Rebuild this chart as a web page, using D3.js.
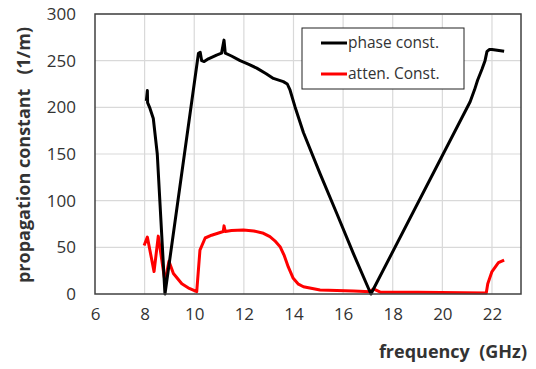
<!DOCTYPE html>
<html>
<head>
<meta charset="utf-8">
<script src="https://cdn.jsdelivr.net/npm/d3@7"></script>
<style>
  body { margin: 0; background: #fff; }
  text { font-family: "Open Sans", "Noto Sans", sans-serif; fill: #333; }
</style>
</head>
<body>
<div id="chart"></div>
<script>

// phase constant (black)
let phaseFreq = [8.07, 8.11, 8.12, 8.2, 8.35, 8.51, 8.82, 10.17, 10.24, 10.3, 10.4, 10.57, 10.9, 11.1, 11.2, 11.25, 11.5, 11.85, 12.2, 12.52, 12.9, 13.19, 13.59, 13.75, 13.86, 14.06, 14.4, 15.07, 15.75, 16.42, 17.12, 21.12, 21.3, 21.42, 21.6, 21.72, 21.8, 21.9, 22.0, 22.49];
let phaseVals = [207, 218, 205, 200, 188, 150, 0, 258, 259, 250, 249, 252, 256, 258, 272, 258, 255, 250, 246, 242, 236, 231, 227.5, 225, 218.6, 200.7, 173, 129, 86, 43, 0, 206, 219, 229, 241, 250, 260, 262, 262, 260];

// attenuation constant (red)
let attenFreq = [7.98, 8.11, 8.38, 8.55, 8.82, 8.98, 9.16, 9.5, 9.8, 10.1, 10.23, 10.44, 10.7, 11.17, 11.2, 11.25, 11.5, 11.98, 12.4, 12.79, 13.05, 13.25, 13.46, 13.63, 13.79, 13.99, 14.2, 14.4, 15.07, 16.42, 17.09, 17.22, 17.5, 19, 21.77, 21.83, 22.0, 22.26, 22.49];
let attenVals = [52, 61, 24, 62, 13, 35, 22, 11, 6, 2.5, 47, 60, 63, 67, 73, 67, 68, 68.6, 67.5, 65, 61.4, 57, 50.7, 41, 29, 16.8, 10.5, 7.8, 4.3, 3.2, 2.5, 5.4, 2, 2, 1, 11, 24, 33.6, 36.4];

let xTicks = [6, 8, 10, 12, 14, 16, 18, 20, 22];
let yTicks = [0, 50, 100, 150, 200, 250, 300];

let seriesNames = ['phase const.', 'atten. Const.'];
let seriesColors = ['#000000', '#ff0000'];

function main() {
  // plot area
  var margin = { top: 14, right: 15, bottom: 75, left: 95 };
  var width = 536 - margin.left - margin.right;
  var height = 369 - margin.top - margin.bottom;

  var svg = d3.select("#chart").append("svg")
    .attr("width", 536)
    .attr("height", 369);

  var g = svg.append("g")
    .attr("transform", "translate(" + margin.left + "," + margin.top + ")");

  var x = d3.scaleLinear().domain([6, 23.17]).range([0, width]);
  var y = d3.scaleLinear().domain([0, 300]).range([height, 0]);

  // grid
  g.selectAll(".vgrid")
    .data(xTicks.slice(1))
    .enter().append("line")
    .attr("x1", function (d) { return x(d); })
    .attr("x2", function (d) { return x(d); })
    .attr("y1", 0).attr("y2", height)
    .attr("stroke", "#d9d9d9").attr("stroke-width", 1.2);

  g.selectAll(".hgrid")
    .data(yTicks.slice(1))
    .enter().append("line")
    .attr("x1", 0).attr("x2", width)
    .attr("y1", function (d) { return y(d); })
    .attr("y2", function (d) { return y(d); })
    .attr("stroke", "#d9d9d9").attr("stroke-width", 1.2);

  // lines
  var phaseData = phaseFreq.map(function (f, i) { return [f, phaseVals[i]]; });
  var attenData = attenFreq.map(function (f, i) { return [f, attenVals[i]]; });

  var line = d3.line()
    .x(function (d) { return x(d[0]); })
    .y(function (d) { return y(d[1]); })
    .curve(d3.curveLinear);

  g.append("path").datum(attenData)
    .attr("d", line)
    .attr("fill", "none")
    .attr("stroke", seriesColors[1])
    .attr("stroke-width", 3)
    .attr("stroke-linejoin", "round");

  g.append("path").datum(phaseData)
    .attr("d", line)
    .attr("fill", "none")
    .attr("stroke", seriesColors[0])
    .attr("stroke-width", 3)
    .attr("stroke-linejoin", "round");

  // frame
  g.append("rect")
    .attr("width", width).attr("height", height)
    .attr("fill", "none")
    .attr("stroke", "#404040").attr("stroke-width", 1.5);

  // axes (labels only)
  var xAxis = g.append("g")
    .attr("transform", "translate(0," + height + ")")
    .call(d3.axisBottom(x).tickValues(xTicks).tickSize(0).tickPadding(14));
  xAxis.select(".domain").remove();
  xAxis.selectAll("text").style("font-size", "17px").attr("fill", "#404040");

  var yAxis = g.append("g")
    .call(d3.axisLeft(y).tickValues(yTicks).tickSize(0).tickPadding(19));
  yAxis.select(".domain").remove();
  yAxis.selectAll("text").style("font-size", "17px").attr("fill", "#404040");

  // axis titles
  svg.append("text")
    .attr("x", 527).attr("y", 358)
    .attr("text-anchor", "end")
    .style("font-size", "18px").style("font-weight", "bold")
    .attr("fill", "#111")
    .text("frequency\u00a0\u00a0(GHz)");

  svg.append("text")
    .attr("transform", "translate(30," + (margin.top + height / 2 + 1) + ") rotate(-90)")
    .attr("text-anchor", "middle")
    .style("font-size", "18px").style("font-weight", "bold")
    .attr("fill", "#111")
    .text("propagation constant\u00a0\u00a0\u00a0(1/m)");

  // legend
  var legend = svg.append("g").attr("transform", "translate(302,28)");
  legend.append("rect")
    .attr("width", 162).attr("height", 61)
    .attr("fill", "#fff").attr("stroke", "#222").attr("stroke-width", 1);

  seriesNames.forEach(function (name, i) {
    var ly = 15 + i * 31;
    legend.append("line")
      .attr("x1", 19).attr("x2", 45)
      .attr("y1", ly).attr("y2", ly)
      .attr("stroke", seriesColors[i]).attr("stroke-width", 3);
    legend.append("text")
      .attr("x", 46).attr("y", ly + 5)
      .style("font-size", "15.5px")
      .attr("fill", "#222")
      .text(name);
  });
}

main();
</script>
</body>
</html>
